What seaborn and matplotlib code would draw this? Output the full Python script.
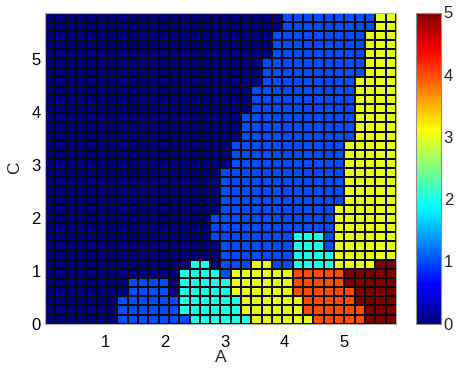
import numpy as np
import matplotlib
matplotlib.use("Agg")
import matplotlib.pyplot as plt
import seaborn as sns
from matplotlib.colors import ListedColormap

# Grid of class values (top row first), 34 x 34 cells
grid_rows = [
    "0000000000000000000000011111111133",  # row 33
    "0000000000000000000000011111111133",  # row 32
    "0000000000000000000000111111111333",  # row 31
    "0000000000000000000000111111111333",  # row 30
    "0000000000000000000000111111111333",  # row 29
    "0000000000000000000001111111111333",  # row 28
    "0000000000000000000001111111111333",  # row 27
    "0000000000000000000001111111113333",  # row 26
    "0000000000000000000011111111113333",  # row 25
    "0000000000000000000011111111113333",  # row 24
    "0000000000000000000011111111113333",  # row 23
    "0000000000000000000111111111113333",  # row 22
    "0000000000000000000111111111113333",  # row 21
    "0000000000000000000111111111113333",  # row 20
    "0000000000000000001111111111133333",  # row 19
    "0000000000000000001111111111133333",  # row 18
    "0000000000000000001111111111133333",  # row 17
    "0000000000000000011111111111133333",  # row 16
    "0000000000000000011111111111133333",  # row 15
    "0000000000000000011111111111133333",  # row 14
    "0000000000000000011111111111133333",  # row 13
    "0000000000000000011111111111333333",  # row 12
    "0000000000000000111111111111333333",  # row 11
    "0000000000000000111111111111333333",  # row 10
    "0000000000000000111111112221333333",  # row 9
    "0000000000000000011111112221333333",  # row 8
    "0000000000000000011111112222333333",  # row 7
    "0000000000000022011133112222333355",  # row 6
    "0000000000000222213333334444455555",  # row 5
    "0000000011110222223333334444455555",  # row 4
    "0000000011110222223333334444445555",  # row 3
    "0000000111111222222333333444445555",  # row 2
    "0000000111111222222333333444444555",  # row 1
    "0000000111111122222233333344444555",  # row 0
]

x_max = 5.86
y_max = 5.87
x_ticks = [1, 2, 3, 4, 5]
y_ticks = [0, 1, 2, 3, 4, 5]
cbar_ticks = [0, 1, 2, 3, 4, 5]
x_label = "A"
y_label = "C"

Z = np.array([[int(c) for c in r] for r in grid_rows], dtype=float)
n_rows, n_cols = Z.shape
dx = x_max / n_cols
dy = y_max / n_rows

# MATLAB-style jet colormap
t = np.linspace(0, 1, 256)
r = np.clip(1.5 - np.abs(4 * t - 3), 0, 1)
g = np.clip(1.5 - np.abs(4 * t - 2), 0, 1)
b = np.clip(1.5 - np.abs(4 * t - 1), 0, 1)
jet = ListedColormap(np.column_stack([r, g, b]))

sns.set_style("white")
plt.rcParams["font.family"] = ["Liberation Sans", "DejaVu Sans"]

fig = plt.figure(figsize=(4.57, 3.69), dpi=100)
ax = fig.add_axes([45 / 457, 1 - 323.7 / 369, 351 / 457, 311 / 369])
cax = fig.add_axes([416 / 457, 1 - 323.5 / 369, 25 / 457, 311 / 369])

sns.heatmap(Z, ax=ax, cbar_ax=cax, cmap=jet, vmin=0, vmax=5,
            linewidths=0.3, linecolor="#0a0a0a",
            xticklabels=False, yticklabels=False)

ax.set_xticks([v / dx for v in x_ticks])
ax.set_xticklabels([str(v) for v in x_ticks])
ax.set_yticks([n_rows - v / dy for v in y_ticks])
ax.set_yticklabels([str(v) for v in y_ticks], rotation=0)
ax.tick_params(axis="x", length=0, pad=8, labelsize=12, colors="black")
ax.tick_params(axis="y", length=0, pad=3, labelsize=12, colors="black")
ax.set_xlabel(x_label, fontsize=12.5, labelpad=0)
ax.set_ylabel(y_label, fontsize=12.5, labelpad=7)
for s in ax.spines.values():
    s.set_visible(True)
    s.set_color("#b0b0b0")
    s.set_linewidth(0.8)

cb = ax.collections[0].colorbar
cb.set_ticks(cbar_ticks)
cb.set_ticklabels([str(v) for v in cbar_ticks])
cax.tick_params(length=3, direction="in", width=0.6, color="#444444",
                labelsize=12, pad=2, right=True, left=True)
cb.outline.set_visible(True)
cb.outline.set_edgecolor("#909090")
cb.outline.set_linewidth(0.8)

fig.savefig("out.png", dpi=100)
